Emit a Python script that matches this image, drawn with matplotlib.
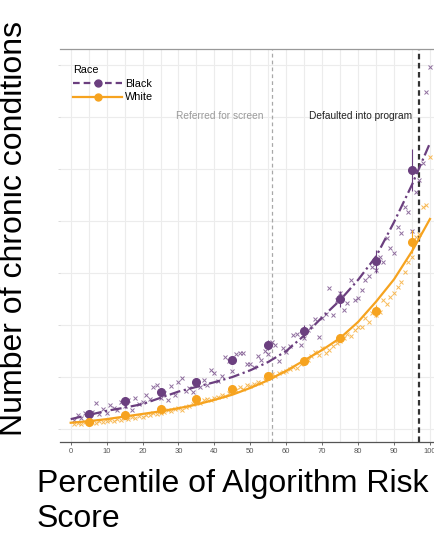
import numpy as np
import matplotlib
matplotlib.use("Agg")
import matplotlib.pyplot as plt
from matplotlib.lines import Line2D

plt.rcParams['font.family'] = ['Liberation Sans', 'DejaVu Sans']

# binned means (large dots) with error bars
bin_pct = [5, 15, 25, 35, 45, 55, 65, 75, 85, 95]
black_mean = [0.29, 0.54, 0.71, 0.90, 1.33, 1.62, 1.88, 2.50, 3.23, 4.98]
white_mean = [0.13, 0.27, 0.38, 0.58, 0.77, 1.02, 1.31, 1.75, 2.27, 3.60]
black_err = [0.04, 0.05, 0.06, 0.07, 0.08, 0.10, 0.12, 0.16, 0.22, 0.40]
white_err = [0.02, 0.03, 0.03, 0.04, 0.04, 0.05, 0.06, 0.08, 0.12, 0.22]

# fitted curves
curve_pct = [0, 5, 10, 15, 20, 25, 30, 35, 40, 45, 50, 55, 60, 65, 70, 75, 80, 85, 90, 95, 100]
black_curve = [0.19, 0.27, 0.35, 0.41, 0.48, 0.60, 0.72, 0.81, 0.90, 1.00, 1.13, 1.29,
               1.50, 1.80, 2.15, 2.48, 2.87, 3.32, 3.98, 4.70, 5.50]
white_curve = [0.12, 0.15, 0.19, 0.24, 0.29, 0.34, 0.40, 0.47, 0.56, 0.66, 0.79, 0.94,
               1.12, 1.32, 1.52, 1.75, 2.06, 2.45, 2.88, 3.42, 4.04]

# per-percentile means (crosses)
pct = list(range(1, 101))
black_pts = [0.18, 0.26, 0.22, 0.30, 0.25, 0.33, 0.50, 0.28, 0.38, 0.31,
             0.46, 0.40, 0.36, 0.52, 0.44, 0.55, 0.37, 0.60, 0.48, 0.51,
             0.66, 0.58, 0.80, 0.84, 0.60, 0.70, 0.56, 0.82, 0.66, 0.90,
             0.98, 0.74, 0.79, 0.72, 0.84, 0.80, 0.94, 0.85, 1.13, 1.08,
             0.92, 1.02, 1.38, 1.30, 1.12, 1.45, 1.46, 1.47, 1.25, 1.26,
             1.20, 1.40, 1.32, 1.50, 1.44, 1.68, 1.62, 1.30, 1.56, 1.48,
             1.60, 1.80, 1.83, 1.62, 1.75, 1.90, 1.98, 2.12, 1.77, 2.13,
             2.22, 2.71, 2.19, 2.48, 2.61, 2.28, 2.42, 2.87, 2.48, 2.52,
             2.67, 2.87, 2.95, 3.12, 3.05, 3.31, 3.21, 3.67, 3.48, 3.38,
             3.88, 3.77, 4.27, 4.17, 3.81, 4.55, 4.79, 5.12, 6.48, 6.96]
white_pts = [0.10, 0.12, 0.09, 0.13, 0.11, 0.14, 0.12, 0.16, 0.13, 0.15,
             0.18, 0.16, 0.20, 0.17, 0.21, 0.19, 0.23, 0.21, 0.25, 0.24,
             0.27, 0.26, 0.30, 0.28, 0.31, 0.33, 0.36, 0.35, 0.38, 0.40,
             0.37, 0.42, 0.45, 0.49, 0.52, 0.50, 0.55, 0.58, 0.56, 0.60,
             0.62, 0.65, 0.63, 0.70, 0.72, 0.75, 0.80, 0.76, 0.84, 0.82,
             0.86, 0.90, 0.88, 0.95, 1.00, 1.05, 1.02, 1.08, 1.10, 1.12,
             1.15, 1.20, 1.18, 1.26, 1.30, 1.33, 1.40, 1.48, 1.42, 1.56,
             1.46, 1.52, 1.60, 1.65, 1.70, 1.75, 1.82, 1.78, 1.90, 1.96,
             1.96, 2.13, 2.05, 2.23, 2.20, 2.25, 2.48, 2.40, 2.54, 2.62,
             2.73, 2.83, 3.02, 3.21, 3.30, 3.69, 3.75, 4.27, 4.31, 5.23]

xticks = [0, 10, 20, 30, 40, 50, 60, 70, 80, 90, 100]
screen_cut = 56
default_cut = 97

purple = '#6b3f7f'
orange = '#f6a31f'
dash_black = (0, (5, 1.6, 1, 1.6))

fig = plt.figure(figsize=(4.35, 5.33), dpi=100)
ax = fig.add_axes([60/435, 91/533, 375/435, 393/533])

ax.set_xlim(-2.98, 101.4)
ax.set_ylim(-0.25, 7.31)

# grid
for v in np.arange(0, 101, 5):
    ax.axvline(v, color='#ececec', lw=0.8, zorder=0)
for v in range(0, 8):
    ax.axhline(v, color='#ececec', lw=0.8, zorder=0)

# threshold lines
ax.axvline(screen_cut, color='#a8a8a8', lw=0.9, ls=(0, (3, 2.5)), zorder=1)
ax.axvline(default_cut, color='#333333', lw=1.6, ls=(0, (2.5, 1.6)), zorder=1)
ax.text(screen_cut - 2.3, 6.02, 'Referred for screen', color='#9a9a9a',
        fontsize=7.3, ha='right', va='center')
ax.text(default_cut - 1.9, 6.02, 'Defaulted into program', color='#222222',
        fontsize=7.3, ha='right', va='center')

# crosses
ax.plot(pct, black_pts, ls='none', marker='x', ms=3.2, mew=0.7, color=purple, alpha=0.75, zorder=2)
ax.plot(pct, white_pts, ls='none', marker='x', ms=3.2, mew=0.7, color=orange, alpha=0.75, zorder=2)

# fitted curves
ax.plot(curve_pct, white_curve, color=orange, lw=1.6, zorder=3)
ax.plot(curve_pct, black_curve, color=purple, lw=1.6, ls=dash_black, zorder=3)

# binned means
ax.errorbar(bin_pct, black_mean, yerr=black_err, fmt='o', ms=5.5, color=purple,
            ecolor=purple, elinewidth=0.8, capsize=0, zorder=4)
ax.errorbar(bin_pct, white_mean, yerr=white_err, fmt='o', ms=5.5, color=orange,
            ecolor=orange, elinewidth=0.8, capsize=0, zorder=4)

# legend
handles = [Line2D([], [], color=purple, lw=1.6, ls=(0, (3, 1.8)), marker='o', ms=5),
           Line2D([], [], color=orange, lw=1.6, marker='o', ms=5)]
leg = ax.legend(handles, ['Black', 'White'], title='Race', loc='upper left',
                bbox_to_anchor=(0.035, 0.96), frameon=False, fontsize=7.8,
                title_fontsize=7.8, handlelength=4.5, labelspacing=0.35,
                handletextpad=0.3, borderaxespad=0, borderpad=0)
leg._legend_box.align = 'left'

# axes styling
for s in ['left', 'right']:
    ax.spines[s].set_visible(False)
ax.spines['top'].set_color('#999999')
ax.spines['top'].set_linewidth(0.9)
ax.spines['bottom'].set_color('#555555')
ax.spines['bottom'].set_linewidth(0.9)
ax.set_xticks(xticks)
ax.set_xticklabels([str(t) for t in xticks], fontsize=5.5, color='#555555')
ax.tick_params(axis='x', length=2.5, width=0.6, color='#555555', pad=2)
ax.set_yticks(range(0, 8))
ax.set_yticklabels([])
ax.tick_params(axis='y', length=1.5, width=0.5, color='#cccccc')

fig.text(14/435, 1 - 229/533, 'Number of chronic conditions', rotation=90,
         fontsize=23, ha='center', va='center')
fig.text(37/435, 1 - 469/533, 'Percentile of Algorithm Risk\nScore',
         fontsize=23, ha='left', va='top', linespacing=1.22)

fig.savefig('out.png', dpi=100)
